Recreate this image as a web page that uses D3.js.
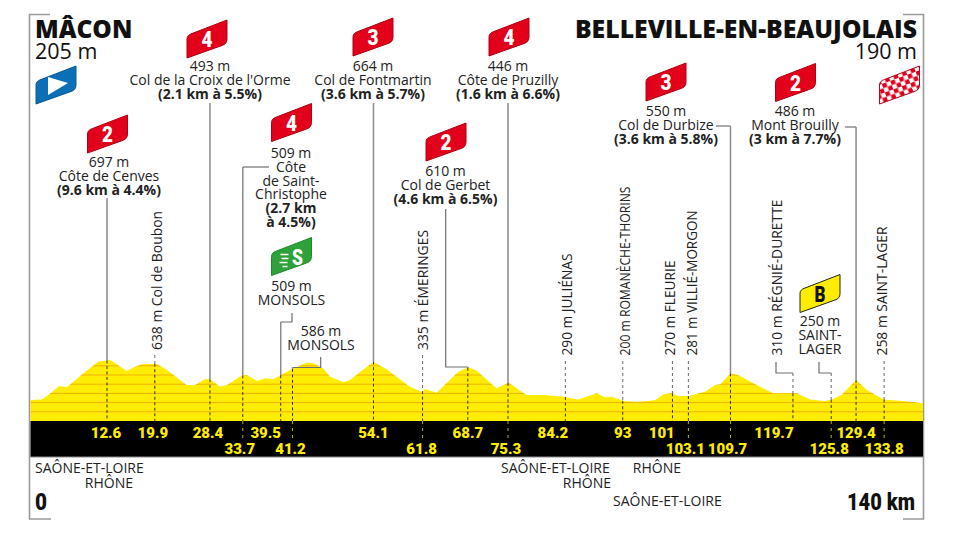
<!DOCTYPE html>
<html>
<head>
<meta charset="utf-8">
<script src="https://cdn.jsdelivr.net/npm/d3@7"></script>
<style>
  html, body { margin: 0; padding: 0; background: #fff; }
  svg { display: block; }
  text { font-family: 'Open Sans', sans-serif; fill: #222; }
  .narrow { font-family: 'Roboto', sans-serif; font-weight: 900; }
</style>
</head>
<body>
<div id="chart"></div>
<script>
// profile
const profileKm = [0, 1.75, 2.8, 4.5, 5.7, 8.3, 10.6, 12.5, 13.3, 15.1, 16.4, 17.4, 19.8, 21.4, 24.5, 25.8, 27.4, 28.2, 29.7, 30.8, 33.1, 33.9, 35.6, 36.8, 38.1, 40.7, 43.3, 44.4, 45.9, 47, 49.1, 50.1, 53.8, 55.9, 59.5, 61.4, 61.9, 63.7, 67.1, 68.7, 70, 73.1, 75, 77.8, 80.4, 83.6, 85.9, 88.8, 90.1, 91.2, 93, 95.1, 97.2, 98, 99.3, 100.7, 101.6, 103.2, 105.8, 107.4, 108.2, 109.8, 111, 113.4, 116.5, 118.1, 120.2, 122.3, 124.6, 125.7, 127.2, 129.5, 131.2, 133.8, 136.9, 140];
const profileAlt = [228, 235, 283, 380, 366, 518, 645, 663, 627, 543, 590, 616, 623, 554, 391, 391, 457, 453, 373, 391, 493, 500, 435, 464, 453, 554, 634, 627, 572, 482, 420, 446, 645, 561, 373, 319, 348, 308, 536, 583, 547, 355, 417, 283, 283, 264, 235, 301, 257, 264, 217, 210, 221, 228, 290, 301, 272, 272, 319, 391, 399, 518, 500, 409, 301, 301, 301, 235, 217, 235, 283, 446, 337, 235, 217, 192];
const gridAlt = [100, 200, 300, 400, 500, 600];

// waypoints: printed km and where the mark really sits on the drawing
const wpLabels = ['12.6', '19.9', '28.4', '33.7', '39.5', '41.2', '54.1', '61.8', '68.7', '75.3', '84.2', '93', '101', '103.1', '109.7', '119.7', '125.8', '129.4', '133.8'];
const wpKm = [12.0, 19.5, 28.15, 33.3, 39.25, 41.1, 53.8, 61.5, 68.6, 74.9, 83.9, 92.9, 100.7, 103.2, 109.8, 119.6, 125.6, 129.5, 133.9];

const rotatedLabels = ['638 m Col de Boubon', '335 m ÉMERINGES', '290 m JULIÉNAS', '200 m ROMANÈCHE-THORINS', '270 m FLEURIE', '281 m VILLIÉ-MORGON', '310 m RÉGNIÉ-DURETTE', '258 m SAINT-LAGER'];

const w = 960;
const h = 540;
const bandTop = 421;
const bandBottom = 457;
const yellow = '#ffed00';

const x = d3.scaleLinear().domain([0, 140]).range([30.5, 923]);
const y = d3.scaleLinear().domain([0, 100]).range([bandTop, bandTop - 9.2]);

const svg = d3.select('#chart').append('svg').attr('width', w).attr('height', h);
const defs = svg.append('defs');

const profile = profileKm.map((k, i) => [k, profileAlt[i]]);
const area = d3.area().x(d => x(d[0])).y0(bandTop).y1(d => y(d[1]));
const altAt = km => {
  const i = d3.bisector(d => d[0]).left(profile, km);
  if (i === 0) return profile[0][1];
  const a = profile[i - 1], b = profile[i];
  return a[1] + (b[1] - a[1]) * (km - a[0]) / (b[0] - a[0]);
};

defs.append('clipPath').attr('id', 'profileClip').append('path').attr('d', area(profile));

// frame corners
const frame = svg.append('g').attr('fill', 'none').attr('stroke', '#9a9a9a').attr('stroke-width', 1.6);
frame.append('path').attr('d', 'M50,14.5H29.5V519H51');
frame.append('path').attr('d', 'M903,14.5H923.5V519H903');

// mountain
svg.append('path').attr('d', area(profile)).attr('fill', yellow);
svg.append('g').attr('clip-path', 'url(#profileClip)')
  .selectAll('line')
  .data(gridAlt)
  .enter()
  .append('line')
  .attr('x1', x(0)).attr('x2', x(140))
  .attr('y1', d => y(d)).attr('y2', d => y(d))
  .attr('stroke', '#f2b000').attr('stroke-width', 1);

// black km band
svg.append('rect')
  .attr('x', x(0)).attr('y', bandTop)
  .attr('width', x(140) - x(0)).attr('height', bandBottom - bandTop)
  .attr('fill', '#000');
svg.append('line')
  .attr('x1', x(0)).attr('x2', x(140))
  .attr('y1', bandBottom).attr('y2', bandBottom)
  .attr('stroke', '#8a8a8a').attr('stroke-width', 1);

// top of each vertical: solid for climbs, dashed for towns. lead = leader drawn before the drop
const drops = [
  { i: 0, top: 198, solid: true },
  { i: 1, top: 355, solid: false },
  { i: 2, top: 103, solid: true },
  { i: 3, top: 167, solid: true, lead: 'M269,167H' },
  { i: 4, top: 322, solid: true, lead: 'M292,313V322H' },
  { i: 5, top: 367.5, solid: true, lead: 'M320.7,357V367.5H' },
  { i: 6, top: 103, solid: true },
  { i: 7, top: 355, solid: false },
  { i: 8, top: 367, solid: true, lead: 'M445.7,209V367H' },
  { i: 9, top: 103, solid: true },
  { i: 10, top: 361, solid: false },
  { i: 11, top: 361, solid: false },
  { i: 12, top: 361, solid: false },
  { i: 13, top: 361, solid: false },
  { i: 14, top: 126, solid: true, lead: 'M716,126H' },
  { i: 15, top: 373, solid: false, lead: 'M776,362V373H' },
  { i: 16, top: 373, solid: false, lead: 'M819,362V373H' },
  { i: 17, top: 127, solid: true, lead: 'M845,127H' },
  { i: 18, top: 361, solid: false }
];
const lowRow = new Set([3, 5, 7, 9, 13, 14, 16, 18]);

const drop = svg.append('g').attr('fill', 'none');
drops.forEach(d => {
  const px = x(wpKm[d.i]);
  const surface = y(altAt(wpKm[d.i]));
  if (d.lead) {
    drop.append('path').attr('d', d.lead + px)
      .attr('stroke', '#6f6f6f').attr('stroke-width', 1.2);
  }
  drop.append('line')
    .attr('x1', px).attr('x2', px).attr('y1', d.top).attr('y2', surface)
    .attr('stroke', d.solid ? '#8a8a8a' : '#777')
    .attr('stroke-width', d.solid ? 1.5 : 1.1)
    .attr('stroke-dasharray', d.solid ? null : '3,3');
  drop.append('line')
    .attr('x1', px).attr('x2', px).attr('y1', surface).attr('y2', bandTop)
    .attr('stroke', '#333').attr('stroke-width', 1).attr('stroke-dasharray', '3,2.5');
  if (lowRow.has(d.i)) {
    drop.append('line')
      .attr('x1', px).attr('x2', px).attr('y1', bandTop).attr('y2', bandTop + 20)
      .attr('stroke', '#b8ac30').attr('stroke-width', 1).attr('stroke-dasharray', '3,4');
  }
});

// km labels in the band
const wpShift = [-1, -2, -2, -3, -15, -2, 0, -1, 0, -2, -12.5, 0, -10.7, -3, -3, -19, -2, 0, 0];
svg.append('g').selectAll('text')
  .data(wpLabels)
  .enter()
  .append('text')
  .attr('class', 'narrow')
  .text(d => d)
  .attr('x', (d, i) => x(wpKm[i]) + wpShift[i])
  .attr('y', (d, i) => lowRow.has(i) ? 453.5 : 437.5)
  .attr('text-anchor', 'middle')
  .style('font-size', '15px')
  .style('fill', yellow);

// horizontal text blocks
const blocks = [
  { cx: 210, y: 71, lines: ['493 m', "Col de la Croix de l'Orme", '*(2.1 km à 5.5%)'] },
  { cx: 109, y: 167, lines: ['697 m', 'Côte de Cenves', '*(9.6 km à 4.4%)'] },
  { cx: 291, y: 158, lines: ['509 m', 'Côte', 'de Saint-', 'Christophe', '*(2.7 km', '*à 4.5%)'] },
  { cx: 291.5, y: 291, lines: ['509 m', 'MONSOLS'] },
  { cx: 321, y: 336, lines: ['586 m', 'MONSOLS'] },
  { cx: 373, y: 71, lines: ['664 m', 'Col de Fontmartin', '*(3.6 km à 5.7%)'] },
  { cx: 445.5, y: 176, lines: ['610 m', 'Col de Gerbet', '*(4.6 km à 6.5%)'] },
  { cx: 508, y: 71, lines: ['446 m', 'Côte de Pruzilly', '*(1.6 km à 6.6%)'] },
  { cx: 666, y: 116, lines: ['550 m', 'Col de Durbize', '*(3.6 km à 5.8%)'] },
  { cx: 795, y: 116, lines: ['486 m', 'Mont Brouilly', '*(3 km à 7.7%)'] },
  { cx: 820, y: 326, lines: ['250 m', 'SAINT-', 'LAGER'] }
];
const blockG = svg.append('g');
blocks.forEach(b => {
  blockG.append('g').selectAll('text')
    .data(b.lines)
    .enter()
    .append('text')
    .text(d => d.replace('*', ''))
    .attr('x', b.cx)
    .attr('y', (d, i) => b.y + i * 13.8)
    .attr('text-anchor', 'middle')
    .style('font-size', '14px')
    .style('font-weight', d => d[0] === '*' ? 700 : 400);
});

// rotated town labels, squeezed to the printed length
const rotatedX = [161.5, 428, 571.5, 630, 675, 696.5, 782, 886.5];
const rotatedBottom = [350, 350, 355.5, 355.5, 355.5, 355.5, 355.5, 355.5];
const rotatedLen = [139, 120, 102, 169, 95, 145, 156, 129];
svg.append('g').selectAll('text')
  .data(rotatedLabels)
  .enter()
  .append('text')
  .text(d => d)
  .attr('transform', (d, i) => `translate(${rotatedX[i]},${rotatedBottom[i]}) rotate(-90)`)
  .attr('textLength', (d, i) => rotatedLen[i])
  .attr('lengthAdjust', 'spacingAndGlyphs')
  .style('font-size', '14px');

// start / finish headings
const heading = (txt, px, py, size, weight, anchor) => svg.append('text')
  .text(txt).attr('x', px).attr('y', py)
  .attr('text-anchor', anchor)
  .style('font-size', size + 'px')
  .style('font-weight', weight)
  .style('fill', '#111');
heading('MÂCON', 35, 38, 24.5, 800, 'start');
heading('205 m', 35, 59, 21.5, 400, 'start');
heading('BELLEVILLE-EN-BEAUJOLAIS', 917, 38, 24.8, 800, 'end');
heading('190 m', 917, 59, 21.5, 400, 'end');

// departments
const deptLabels = [
  ['SAÔNE-ET-LOIRE', 35, 473, 'start'],
  ['RHÔNE', 133, 488, 'end'],
  ['SAÔNE-ET-LOIRE', 501, 473, 'start'],
  ['RHÔNE', 611, 488, 'end'],
  ['RHÔNE', 681, 473, 'end'],
  ['SAÔNE-ET-LOIRE', 613, 506, 'start']
];
svg.append('g').selectAll('text')
  .data(deptLabels)
  .enter()
  .append('text')
  .text(d => d[0])
  .attr('x', d => d[1]).attr('y', d => d[2])
  .attr('text-anchor', d => d[3])
  .style('font-size', '14px');

svg.append('text').attr('class', 'narrow').text('0').attr('x', 35).attr('y', 510)
  .attr('textLength', 12).attr('lengthAdjust', 'spacingAndGlyphs')
  .style('font-size', '24px').style('fill', '#111');
svg.append('text').attr('class', 'narrow').text('140 km').attr('x', 847).attr('y', 510)
  .attr('textLength', 68).attr('lengthAdjust', 'spacingAndGlyphs')
  .style('font-size', '24px').style('fill', '#111');

// flags, positioned by bottom-left corner
const flagPath = 'M0,0V-19Q0,-23 5,-24.5L40,-38V-19Q40,-14 35,-12.5Z';
const flag = (px, py, fill, stroke) => {
  const g = svg.append('g').attr('transform', `translate(${px},${py})`);
  g.append('path').attr('d', flagPath).attr('fill', fill).attr('stroke', stroke).attr('stroke-width', 1);
  return g;
};
const flagChar = (g, txt, cx, color) => g.append('text')
  .attr('class', 'narrow').text(txt)
  .attr('x', cx - 5.5).attr('y', -11)
  .attr('textLength', 11).attr('lengthAdjust', 'spacingAndGlyphs')
  .style('font-size', '22px').style('fill', color);

const climbFlags = [
  [187, 58, '4'], [87.5, 153, '2'], [271.5, 141.5, '4'], [353, 56, '3'],
  [426, 161, '2'], [489, 56, '4'], [646, 101, '3'], [775.5, 101.5, '2']
];
climbFlags.forEach(f => {
  flagChar(flag(f[0], f[1], '#e2001a', '#b00014'), f[2], 20, '#fff');
});

// start
flag(36, 104, '#0b6fb8', '#0a5a96').append('path')
  .attr('d', 'M12,-9V-27L32,-21Z').attr('fill', '#fff');

// sprint
const sprint = flag(271.5, 275.5, '#2fa13a', '#1f8a2c');
flagChar(sprint, 'S', 26, '#fff');
sprint.append('path').attr('d', 'M9,-21H17M10,-17H17M8,-13H16M11,-9H16')
  .attr('stroke', '#fff').attr('stroke-width', 1.3);

// bonus
flagChar(flag(800, 312.5, yellow, '#222'), 'B', 20, '#111');

// finish, checkers
const checks = defs.append('pattern').attr('id', 'checks').attr('patternUnits', 'userSpaceOnUse')
  .attr('width', 9).attr('height', 9).attr('patternTransform', 'rotate(-20)');
checks.append('rect').attr('width', 9).attr('height', 9).attr('fill', '#fff');
checks.append('rect').attr('width', 4.5).attr('height', 4.5).attr('fill', '#e2001a');
checks.append('rect').attr('x', 4.5).attr('y', 4.5).attr('width', 4.5).attr('height', 4.5).attr('fill', '#e2001a');
flag(879.5, 104, 'url(#checks)', '#c00018');
</script>
</body>
</html>
